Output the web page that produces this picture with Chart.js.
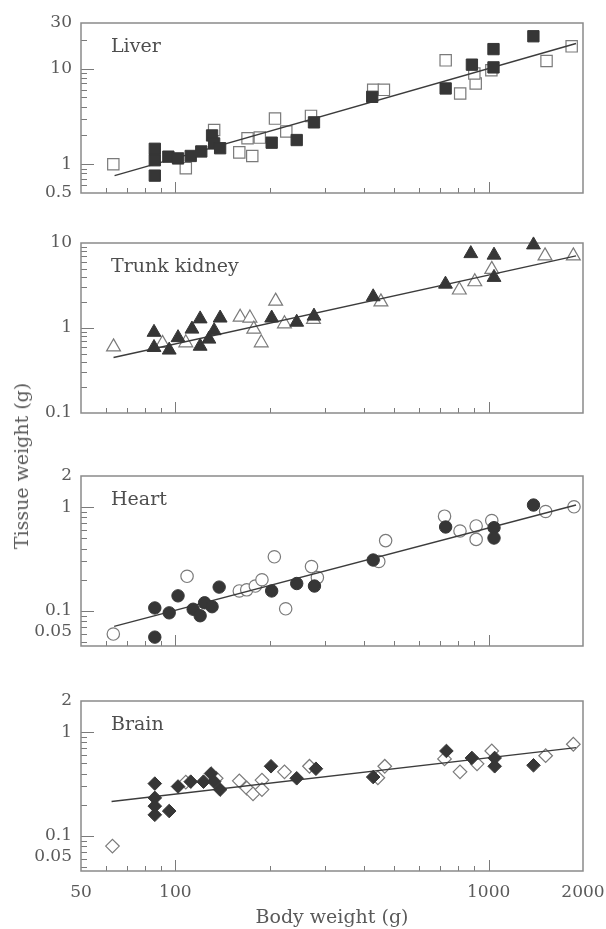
<!DOCTYPE html>
<html>
<head>
<meta charset="utf-8">
<script src="https://cdn.jsdelivr.net/npm/chart.js@4.4.1/dist/chart.umd.min.js"></script>
<style>
  body { margin: 0; background: #fff; }
  #wrap { position: relative; width: 606px; height: 929px; overflow: hidden; background: #fff; }
  #wrap canvas { position: absolute; left: 0; }
  #ytitle {
    position: absolute; left: 21px; top: 466px;
    transform: translate(-50%, -50%) rotate(-90deg);
    font: 19px "DejaVu Serif"; color: #5a5a5a; white-space: nowrap;
  }
</style>
</head>
<body>
<div id="wrap">
  <canvas id="liver" width="606" height="206" style="top:3px"></canvas>
  <canvas id="kidney" width="606" height="206" style="top:223px"></canvas>
  <canvas id="heart" width="606" height="206" style="top:456px"></canvas>
  <canvas id="brain" width="606" height="248" style="top:681px"></canvas>
  <div id="ytitle">Tissue weight (g)</div>
</div>
<script>
// body weight (g) -> tissue weight (g), filled and open symbols per organ

// x axis
const xTickValues = [50, 100, 1000, 2000];
const xTickLabels = ['50', '100', '1000', '2000'];
const xMajorTicks = [100, 1000];
const xMinorTicks = [60, 70, 80, 90, 200, 300, 400, 500, 600, 700, 800, 900];

// Liver
const liverFilledX = [86, 86, 86, 95, 102, 112, 121, 131, 133, 139, 203, 244, 277, 425, 729, 884, 1036, 1036, 1389];
const liverFilledY = [1.45, 1.1, 0.76, 1.2, 1.15, 1.22, 1.36, 2.0, 1.65, 1.47, 1.68, 1.79, 2.74, 5.07, 6.2, 11.0, 16.0, 10.3, 21.8];
const liverOpenX = [63.4, 108, 133, 160, 170, 176, 186, 208, 226, 271, 428, 463, 729, 811, 909, 900, 1020, 1530, 1840];
const liverOpenY = [1.0, 0.91, 2.28, 1.33, 1.87, 1.22, 1.9, 3.0, 2.2, 3.2, 6.0, 6.0, 12.2, 5.5, 7.0, 8.9, 9.6, 12.0, 17.1];
const liverFitX = [64, 1900];
const liverFitY = [0.76, 18.3];
const liverTicks = [0.5, 1, 10, 30];
const liverTickLabels = ['0.5', '1', '10', '30'];

// Trunk kidney
const kidneyFilledX = [85.5, 85.5, 95.6, 102, 113, 120, 120, 128, 133, 139, 203, 244, 277, 428, 728, 877, 1040, 1040, 1390];
const kidneyFilledY = [0.89, 0.59, 0.55, 0.77, 0.97, 1.28, 0.61, 0.74, 0.93, 1.31, 1.31, 1.17, 1.38, 2.33, 3.28, 7.5, 7.2, 3.94, 9.5];
const kidneyOpenX = [63.5, 91, 108, 161, 173, 178, 188, 209, 223, 276, 453, 806, 903, 1023, 1513, 1863];
const kidneyOpenY = [0.6, 0.66, 0.67, 1.34, 1.31, 0.97, 0.67, 2.07, 1.12, 1.26, 2.03, 2.8, 3.5, 4.9, 7.05, 7.05];
const kidneyFitX = [63.5, 1900];
const kidneyFitY = [0.45, 7.05];
const kidneyTicks = [0.1, 1, 10];
const kidneyTickLabels = ['0.1', '1', '10'];

// Heart
const heartFilledX = [86, 86, 95.6, 102, 114, 120, 124, 131, 138, 203, 244, 278, 428, 729, 1040, 1040, 1390];
const heartFilledY = [0.107, 0.056, 0.096, 0.14, 0.104, 0.09, 0.12, 0.11, 0.17, 0.156, 0.184, 0.174, 0.31, 0.645, 0.635, 0.505, 1.05];
const heartOpenX = [63.4, 109, 160, 169, 180, 189, 207, 225, 272, 284, 446, 469, 723, 810, 912, 912, 1023, 1520, 1872];
const heartOpenY = [0.06, 0.216, 0.156, 0.16, 0.174, 0.2, 0.333, 0.105, 0.268, 0.21, 0.3, 0.477, 0.82, 0.59, 0.66, 0.49, 0.745, 0.91, 1.01];
const heartFitX = [63.8, 1900];
const heartFitY = [0.071, 1.05];

// Brain
const brainFilledX = [86, 86, 86, 86, 95.6, 102, 112, 123, 130, 133, 139, 202, 244, 281, 428, 733, 884, 1045, 1045, 1390];
const brainFilledY = [0.32, 0.233, 0.194, 0.16, 0.174, 0.3, 0.334, 0.334, 0.4, 0.334, 0.28, 0.47, 0.36, 0.445, 0.37, 0.66, 0.565, 0.565, 0.47, 0.48];
const brainOpenX = [63, 108, 135, 160, 169, 177, 189, 189, 223, 268, 443, 466, 723, 810, 918, 1023, 1520, 1863];
const brainOpenY = [0.08, 0.33, 0.36, 0.34, 0.29, 0.255, 0.346, 0.28, 0.415, 0.47, 0.364, 0.47, 0.553, 0.415, 0.496, 0.66, 0.594, 0.766];
const brainFitX = [62.6, 1900];
const brainFitY = [0.215, 0.71];

// heart and brain share the same y axis
const smallTicks = [0.05, 0.1, 1, 2];
const smallTickLabels = ['0.05', '0.1', '1', '2'];

const serif = '"DejaVu Serif", "Liberation Serif", serif';
const textColor = '#5a5a5a';

function pts(xs, ys) {
  return xs.map((x, i) => ({ x: x, y: ys[i] }));
}

function decadeMinors(lo, hi) {
  // 2..9 multiples of each decade inside (lo, hi)
  const out = [];
  for (let d = -3; d <= 3; d++) {
    for (let m = 2; m <= 9; m++) {
      const v = m * Math.pow(10, d);
      if (v > lo * 1.001 && v < hi * 0.999) out.push(+v.toPrecision(3));
    }
  }
  return out;
}

const framePlugin = {
  id: 'frame',
  beforeDatasetsDraw(chart, args, opts) {
    const { ctx, chartArea: a, scales } = chart;
    const xs = scales.x, ys = scales.y;
    ctx.save();
    ctx.strokeStyle = '#7a7a7a';
    ctx.lineWidth = 1;
    ctx.beginPath();
    xMajorTicks.forEach(v => {
      const px = Math.round(xs.getPixelForValue(v)) + 0.5;
      ctx.moveTo(px, a.bottom); ctx.lineTo(px, a.bottom - 11);
    });
    xMinorTicks.forEach(v => {
      const px = Math.round(xs.getPixelForValue(v)) + 0.5;
      ctx.moveTo(px, a.bottom); ctx.lineTo(px, a.bottom - 5);
    });
    opts.major.forEach(v => {
      const py = Math.round(ys.getPixelForValue(v)) + 0.5;
      ctx.moveTo(a.left, py); ctx.lineTo(a.left + 13, py);
    });
    opts.minor.forEach(v => {
      const py = Math.round(ys.getPixelForValue(v)) + 0.5;
      ctx.moveTo(a.left, py); ctx.lineTo(a.left + 6, py);
    });
    ctx.stroke();
    ctx.lineWidth = 1.5;
    ctx.strokeStyle = '#8a8a8a';
    ctx.strokeRect(a.left, a.top, a.right - a.left, a.bottom - a.top);
    ctx.fillStyle = '#4e4e4e';
    ctx.font = '19px ' + serif;
    ctx.textBaseline = 'alphabetic';
    ctx.textAlign = 'left';
    ctx.fillText(opts.label, a.left + 30, a.top + 29);
    ctx.restore();
  }
};

const panels = [
  { id: 'liver', label: 'Liver', shape: 'rect', r: 8,
    fx: liverFilledX, fy: liverFilledY, ox: liverOpenX, oy: liverOpenY, lx: liverFitX, ly: liverFitY,
    yMin: 0.5, yMax: 30, ticks: liverTicks, tickLabels: liverTickLabels, major: [1, 10], showX: false },
  { id: 'kidney', label: 'Trunk kidney', shape: 'triangle', r: 8,
    fx: kidneyFilledX, fy: kidneyFilledY, ox: kidneyOpenX, oy: kidneyOpenY, lx: kidneyFitX, ly: kidneyFitY,
    yMin: 0.1, yMax: 10, ticks: kidneyTicks, tickLabels: kidneyTickLabels, major: [1], showX: false },
  { id: 'heart', label: 'Heart', shape: 'circle', r: 6.2,
    fx: heartFilledX, fy: heartFilledY, ox: heartOpenX, oy: heartOpenY, lx: heartFitX, ly: heartFitY,
    yMin: 0.046, yMax: 2, ticks: smallTicks, tickLabels: smallTickLabels, major: [0.1, 1], showX: false },
  { id: 'brain', label: 'Brain', shape: 'rectRot', r: 6.8,
    fx: brainFilledX, fy: brainFilledY, ox: brainOpenX, oy: brainOpenY, lx: brainFitX, ly: brainFitY,
    yMin: 0.046, yMax: 2, ticks: smallTicks, tickLabels: smallTickLabels, major: [0.1, 1], showX: true }
];

panels.forEach(p => {
  const minor = decadeMinors(p.yMin, p.yMax).filter(v => p.major.indexOf(v) < 0);
  new Chart(document.getElementById(p.id), {
    type: 'scatter',
    data: {
      datasets: [
        { data: pts(p.fx, p.fy), pointStyle: p.shape, pointRadius: p.r,
          backgroundColor: '#363636', borderColor: '#363636', borderWidth: 1, order: 1, clip: false },
        { data: pts(p.lx, p.ly), showLine: true, pointRadius: 0,
          borderColor: '#3c3c3c', borderWidth: 1.4, fill: false, order: 2, clip: false },
        { data: pts(p.ox, p.oy), pointStyle: p.shape, pointRadius: p.r,
          backgroundColor: '#ffffff', borderColor: '#7a7a7a', borderWidth: 1.2, order: 3, clip: false }
      ]
    },
    options: {
      responsive: false,
      animation: false,
      events: [],
      layout: { padding: { top: 20, right: 23, left: 0, bottom: p.showX ? 0 : 16 } },
      plugins: {
        legend: { display: false },
        tooltip: { enabled: false },
        frame: { label: p.label, major: p.major, minor: minor }
      },
      scales: {
        x: {
          type: 'logarithmic', min: 50, max: 2000,
          grid: { display: false, drawTicks: false },
          border: { display: false },
          ticks: {
            display: p.showX, autoSkip: false, maxRotation: 0, padding: 11,
            color: textColor, font: { family: serif, size: 17 },
            callback: (v, i) => xTickLabels[i]
          },
          afterBuildTicks: s => { s.ticks = xTickValues.map(v => ({ value: v })); },
          title: {
            display: p.showX, text: 'Body weight (g)', color: textColor,
            font: { family: serif, size: 19 }, padding: 0
          },
          afterFit: s => {
            s.height = p.showX ? 58 : 0;
            s.paddingLeft = 0; s.paddingRight = 0;
          }
        },
        y: {
          type: 'logarithmic', min: p.yMin, max: p.yMax,
          grid: { display: false, drawTicks: false },
          border: { display: false },
          ticks: {
            autoSkip: false, padding: 9,
            color: textColor, font: { family: serif, size: 17 },
            callback: (v, i) => (p.ticks[i] === 0.05 ? [p.tickLabels[i], ''] : p.tickLabels[i])
          },
          afterBuildTicks: s => { s.ticks = p.ticks.map(v => ({ value: v })); },
          afterFit: s => {
            s.width = 81;
            s.paddingTop = 0; s.paddingBottom = 0;
          }
        }
      }
    },
    plugins: [framePlugin]
  });
});
</script>
</body>
</html>
